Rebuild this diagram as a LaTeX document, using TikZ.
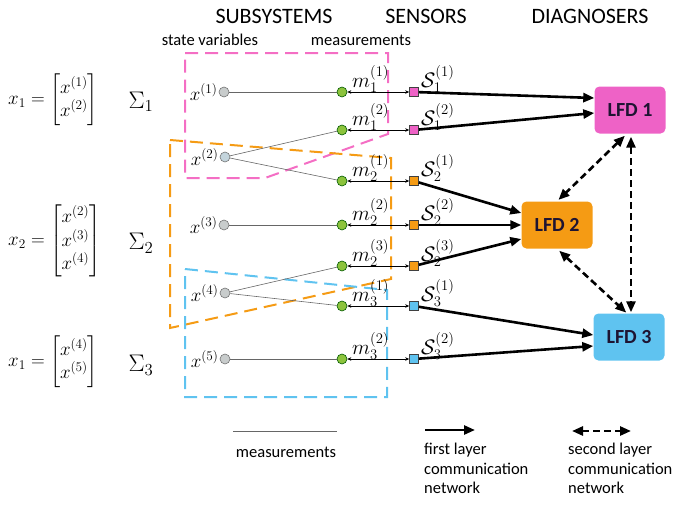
\RequirePackage{fix-cm}
\documentclass[tikz,border=0pt]{standalone}
\usepackage{amsmath}
\usepackage[no-math]{fontspec}
\setmainfont{Carlito}
\usetikzlibrary{arrows.meta,calc}
\definecolor{pinkc}{RGB}{238,98,198}
\definecolor{pinkl}{RGB}{244,110,196}
\definecolor{orangec}{RGB}{245,155,20}
\definecolor{bluec}{RGB}{95,195,240}
\definecolor{greenc}{RGB}{140,195,60}
\definecolor{greyc}{RGB}{200,204,204}
\definecolor{greybl}{RGB}{195,212,220}
\definecolor{lfdtext}{RGB}{30,20,50}
\tikzset{
  dbox/.style={line width=2pt, dash pattern=on 13pt off 7pt, line join=miter},
  gcirc/.style={circle, draw=black!55, fill=greyc, minimum size=10pt, inner sep=0pt, line width=0.6pt},
  mcirc/.style={circle, draw=green!35!black, fill=greenc, minimum size=10pt, inner sep=0pt, line width=0.6pt},
  sq/.style={rectangle, draw=black!75, minimum size=9pt, inner sep=0pt, line width=0.6pt},
  lfd/.style={rounded corners=5pt, minimum width=71pt, minimum height=47pt, inner sep=0pt,
    font=\fontsize{20}{24}\selectfont\bfseries, text=lfdtext},
  meas/.style={draw=black!60, line width=0.6pt},
  link/.style={{Stealth[length=4pt,width=3.5pt]}-{Stealth[length=4pt,width=3.5pt]}, line width=0.6pt},
  first/.style={-{Triangle[length=11pt,width=9pt]}, line width=2.6pt},
  second/.style={{Triangle[length=11pt,width=9pt]}-{Triangle[length=11pt,width=9pt]}, line width=2.6pt, dash pattern=on 7pt off 4pt},
  title/.style={font=\fontsize{22}{26}\selectfont},
  sub/.style={font=\fontsize{16.5}{19.5}\selectfont},
  xl/.style={font=\fontsize{19}{22}\selectfont, inner sep=1pt, anchor=east},
  ml/.style={font=\fontsize{21}{24}\selectfont, inner sep=0pt, anchor=base west},
  eq/.style={font=\fontsize{19}{22}\selectfont, inner sep=0pt, anchor=west},
  sig/.style={font=\fontsize{24}{28}\selectfont, inner sep=0pt},
}
\begin{document}
\begin{tikzpicture}[x=1pt,y=-1pt]
\useasboundingbox (0,0) rectangle (673,506);

% titles
\node[title] (t1) at (274,16) {SUBSYSTEMS};
\node[title] (t2) at (426,16) {SENSORS};
\node[title] (t3) at (590,16) {DIAGNOSERS};
\node[sub] (st1) at (210,40) {state variables};
\node[sub] (st2) at (361,40) {measurements};

% left equations
\node[eq] (eq1) at (8,100) {$x_1 = \begin{bmatrix} x^{(1)}\\ x^{(2)}\end{bmatrix}$};
\node[eq] (eq2) at (8,241) {$x_2 = \begin{bmatrix} x^{(2)}\\ x^{(3)}\\ x^{(4)}\end{bmatrix}$};
\node[eq] (eq3) at (8,362) {$x_1 = \begin{bmatrix} x^{(4)}\\ x^{(5)}\end{bmatrix}$};
\node[sig] (sg1) at (141,102) {$\Sigma_1$};
\node[sig] (sg2) at (141,243) {$\Sigma_2$};
\node[sig] (sg3) at (141,365) {$\Sigma_3$};

% dashed subsystem boxes
\draw[dbox, pinkl] (185,53) -- (388,53) -- (388,134) -- (265,178) -- (185,178) -- cycle;
\draw[dbox, orangec] (170,140) -- (391,158) -- (391,279) -- (170,328) -- cycle;
\draw[dbox, bluec] (185,269) -- (387,290) -- (387,397) -- (185,397) -- cycle;

% state variables
\node[gcirc] (g1) at (224,92) {};
\node[gcirc, fill=greybl] (g2) at (225,157) {};
\node[gcirc] (g3) at (224,225) {};
\node[gcirc] (g4) at (225,293) {};
\node[gcirc] (g5) at (225,359) {};
\node[xl] (xl1) at (g1.west) {$x^{(1)}$};
\node[xl] (xl2) at (g2.west) {$x^{(2)}$};
\node[xl] (xl3) at (g3.west) {$x^{(3)}$};
\node[xl] (xl4) at (g4.west) {$x^{(4)}$};
\node[xl] (xl5) at (g5.west) {$x^{(5)}$};

% measurements
\node[mcirc] (m11) at (342,92) {};
\node[mcirc] (m12) at (342,130) {};
\node[mcirc] (m21) at (342,181) {};
\node[mcirc] (m22) at (342,225) {};
\node[mcirc] (m23) at (342,266) {};
\node[mcirc] (m31) at (342,306) {};
\node[mcirc] (m32) at (342,359) {};

% sensors
\node[sq, fill=pinkc] (s11) at (414,92) {};
\node[sq, fill=pinkc] (s12) at (414,130) {};
\node[sq, fill=orangec] (s21) at (414,181) {};
\node[sq, fill=orangec] (s22) at (414,225) {};
\node[sq, fill=orangec] (s23) at (414,266) {};
\node[sq, fill=bluec] (s31) at (414,306) {};
\node[sq, fill=bluec] (s32) at (414,359) {};

% measurement labels
\node[ml] (lm11) at (352,87) {$m_1^{(1)}$};
\node[ml] (lm12) at (352,125) {$m_1^{(2)}$};
\node[ml] (lm21) at (352,176) {$m_2^{(1)}$};
\node[ml] (lm22) at (352,220) {$m_2^{(2)}$};
\node[ml] (lm23) at (352,261) {$m_2^{(3)}$};
\node[ml] (lm31) at (352,301) {$m_3^{(1)}$};
\node[ml] (lm32) at (352,354) {$m_3^{(2)}$};
\node[ml] (ls11) at (421,87) {$\mathcal{S}_1^{(1)}$};
\node[ml] (ls12) at (421,125) {$\mathcal{S}_1^{(2)}$};
\node[ml] (ls21) at (421,176) {$\mathcal{S}_2^{(1)}$};
\node[ml] (ls22) at (421,220) {$\mathcal{S}_2^{(2)}$};
\node[ml] (ls23) at (421,261) {$\mathcal{S}_2^{(3)}$};
\node[ml] (ls31) at (421,301) {$\mathcal{S}_3^{(1)}$};
\node[ml] (ls32) at (421,354) {$\mathcal{S}_3^{(2)}$};

% state -> measurement lines
\draw[meas] (g1) -- (m11);
\draw[meas] (g2) -- (m12);
\draw[meas] (g2) -- (m21);
\draw[meas] (g3) -- (m22);
\draw[meas] (g4) -- (m23);
\draw[meas] (g4) -- (m31);
\draw[meas] (g5) -- (m32);

% measurement <-> sensor
\foreach \a/\b in {m11/s11,m12/s12,m21/s21,m22/s22,m23/s23,m31/s31,m32/s32}
  \draw[link] (\a) -- (\b);

% diagnosers
\node[lfd, fill=pinkc] (lfd1) at (630,110) {LFD 1};
\node[lfd, fill=orangec] (lfd2) at (557,225) {LFD 2};
\node[lfd, fill=bluec] (lfd3) at (629,337) {LFD 3};

% first layer
\draw[first] (s11) -- ([yshift=12pt]lfd1.west);
\draw[first] (s12) -- ([yshift=-3pt]lfd1.west);
\draw[first] (s21) -- ([yshift=12pt]lfd2.west);
\draw[first] (s22) -- (lfd2.west);
\draw[first] (s23) -- ([yshift=-14pt]lfd2.west);
\draw[first] (s31) -- ([yshift=2pt]lfd3.west);
\draw[first] (s32) -- ([yshift=-9pt]lfd3.west);

% second layer
\draw[second, shorten <=3pt, shorten >=2pt] ([xshift=-3pt]lfd1.south) -- (lfd2.north);
\draw[second, shorten <=3pt, shorten >=1pt] ([xshift=1pt]lfd1.south) -- ([xshift=2pt]lfd3.north);
\draw[second, shorten <=3pt, shorten >=1pt] (lfd2.south) -- ([xshift=-2pt]lfd3.north);

% legend
\coordinate (la) at (233,431);
\coordinate (lb) at (337,431);
\draw[meas] (la) -- (lb);
\node[sub] (lt1) at (286,452) {measurements};
\coordinate (fa) at (425,430);
\coordinate (fb) at (475,430);
\draw[first] (fa) -- (fb);
\node[sub, anchor=north west, align=left, inner sep=0pt] (lt2) at (424,443) {first layer\\communication\\network};
\coordinate (sa) at (572,431);
\coordinate (sb) at (631,431);
\draw[second] (sa) -- (sb);
\node[sub, anchor=north west, align=left, inner sep=0pt] (lt3) at (568,443) {second layer\\communication\\network};
\end{tikzpicture}
\end{document}
